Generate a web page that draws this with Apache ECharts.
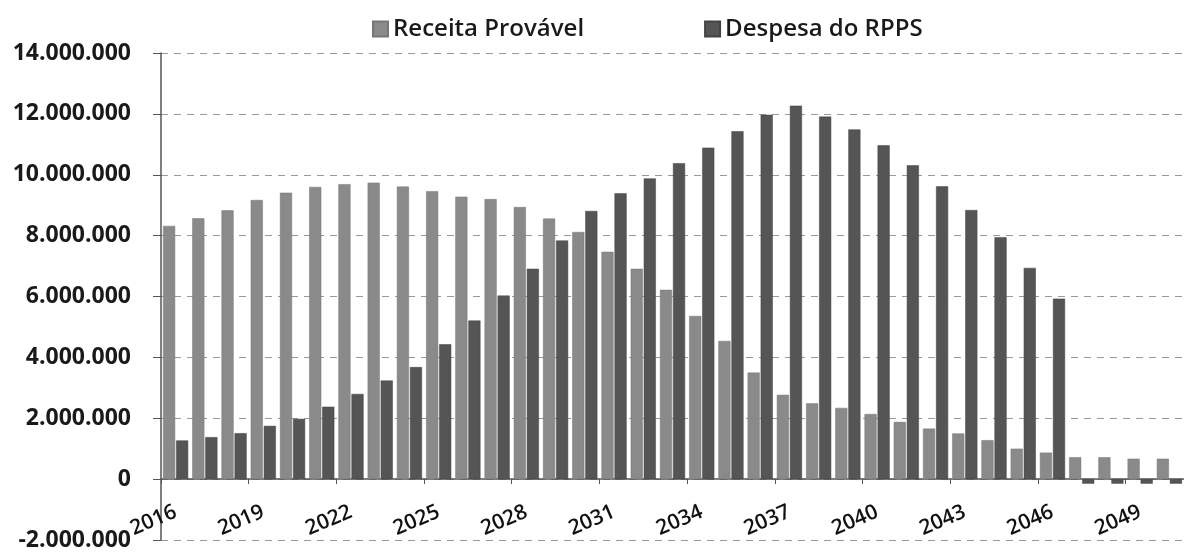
<!DOCTYPE html>
<html>
<head>
<meta charset="utf-8">
<script src="https://cdn.jsdelivr.net/npm/echarts@6/dist/echarts.min.js"></script>
<style>
  html, body { margin: 0; padding: 0; background: #fff; }
  #chart { width: 1184px; height: 555px; }
</style>
</head>
<body>
<div id="chart"></div>
<script>
// anos da projeção
var anos = ['2016', '2017', '2018', '2019', '2020', '2021', '2022', '2023', '2024', '2025',
  '2026', '2027', '2028', '2029', '2030', '2031', '2032', '2033', '2034', '2035',
  '2036', '2037', '2038', '2039', '2040', '2041', '2042', '2043', '2044', '2045',
  '2046', '2047', '2048', '2049', '2050'];

var receitaProvavel = [8320000, 8570000, 8830000, 9170000, 9410000, 9600000, 9690000, 9740000, 9610000, 9460000,
  9280000, 9200000, 8940000, 8560000, 8120000, 7470000, 6910000, 6220000, 5360000, 4540000,
  3500000, 2770000, 2490000, 2340000, 2140000, 1880000, 1660000, 1500000, 1280000, 1000000,
  870000, 720000, 720000, 670000, 670000];

var despesaRPPS = [1270000, 1380000, 1510000, 1750000, 1980000, 2380000, 2800000, 3240000, 3680000, 4430000,
  5210000, 6030000, 6910000, 7840000, 8810000, 9390000, 9880000, 10380000, 10890000, 11430000,
  11970000, 12270000, 11910000, 11490000, 10970000, 10310000, 9620000, 8840000, 7950000, 6940000,
  5930000, -150000, -150000, -150000, -150000];

var nomes = ['Receita Provável', 'Despesa do RPPS'];

function milhar(v) {
    return String(v).replace(/\B(?=(\d{3})+(?!\d))/g, '.');
}

var myChart = echarts.init(document.getElementById('chart'));
var option = {
    backgroundColor: '#fff',
    animation: false,
    textStyle: { fontFamily: '"Open Sans", sans-serif' },
    legend: {
        data: nomes,
        left: 367,
        top: 12,
        icon: 'rect',
        itemWidth: 15,
        itemHeight: 15,
        itemGap: 120,
        textStyle: { fontSize: 24, fontWeight: 600, color: '#1a1a1a' }
    },
    grid: { left: 161, right: 0, top: 53, bottom: 15, containLabel: false, outerBoundsMode: 'none' },
    xAxis: {
        type: 'category',
        data: anos,
        position: 'bottom',
        offset: -61, // eixo na linha do zero (-2.000.000 -> 0)
        axisLine: { show: true, onZero: false, lineStyle: { color: '#555', width: 1.5 } },
        axisTick: { show: true, length: 5, lineStyle: { color: '#555' } },
        axisLabel: {
            interval: 2,
            rotate: 23,
            margin: 32,
            fontSize: 21,
            fontWeight: 600,
            color: '#111'
        }
    },
    yAxis: {
        type: 'value',
        min: -2000000,
        max: 14000000,
        interval: 2000000,
        axisLine: { show: true, lineStyle: { color: '#555', width: 1.5 } },
        axisTick: { show: true, length: 8, lineStyle: { color: '#555' } },
        axisLabel: {
            margin: 30,
            fontSize: 23,
            fontWeight: 'bold',
            color: '#1a1a1a',
            formatter: milhar
        },
        splitLine: { show: true, lineStyle: { color: '#9a9a9a', type: [7, 6], width: 1.2 } }
    },
    series: [
        {
            name: nomes[0],
            type: 'bar',
            data: receitaProvavel,
            barGap: '8%',
            barCategoryGap: '14%',
            itemStyle: { color: '#8a8a8a', borderColor: '#777', borderWidth: 0.5 }
        },
        {
            name: nomes[1],
            type: 'bar',
            data: despesaRPPS,
            itemStyle: { color: '#555', borderColor: '#444', borderWidth: 0.5 }
        }
    ]
};
myChart.setOption(option);
</script>
</body>
</html>
